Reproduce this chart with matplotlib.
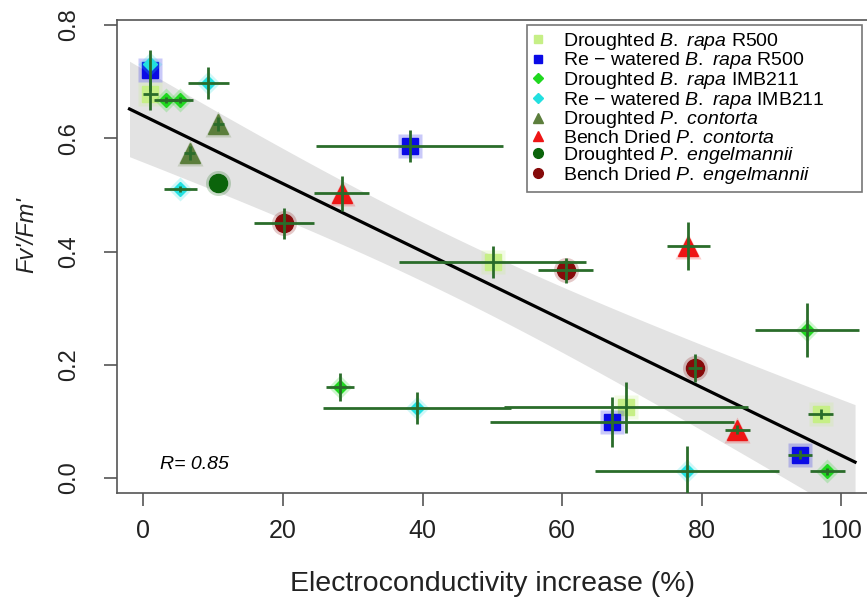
import numpy as np
import matplotlib
matplotlib.use('Agg')
import matplotlib.pyplot as plt
from matplotlib.lines import Line2D

plt.rcParams['font.family'] = ['Liberation Sans', 'DejaVu Sans']
plt.rcParams['mathtext.fontset'] = 'custom'
plt.rcParams['mathtext.rm'] = 'Liberation Sans'
plt.rcParams['mathtext.it'] = 'Liberation Sans:italic'

# Droughted B. rapa R500
dr_r500_x = [1.0, 50.1, 69.2, 97.1]
dr_r500_y = [0.678, 0.382, 0.125, 0.113]
dr_r500_xerr = [1.1, 13.4, 17.5, 1.8]
dr_r500_yerr = [0.028, 0.028, 0.045, 0.008]

# Re-watered B. rapa R500
rw_r500_x = [1.0, 38.2, 67.2, 94.1]
rw_r500_y = [0.720, 0.586, 0.099, 0.041]
rw_r500_xerr = [0.0, 13.4, 17.5, 1.7]
rw_r500_yerr = [0.036, 0.028, 0.044, 0.008]

# Droughted B. rapa IMB211
dr_imb_x = [3.2, 5.3, 28.2, 95.1, 98.0]
dr_imb_y = [0.668, 0.668, 0.161, 0.261, 0.012]
dr_imb_xerr = [1.7, 1.8, 2.0, 7.4, 2.5]
dr_imb_yerr = [0.005, 0.005, 0.025, 0.048, 0.006]

# Re-watered B. rapa IMB211
rw_imb_x = [1.0, 9.3, 5.3, 39.2, 77.9]
rw_imb_y = [0.732, 0.698, 0.511, 0.124, 0.012]
rw_imb_xerr = [0.0, 2.9, 2.4, 13.5, 13.2]
rw_imb_yerr = [0.0, 0.028, 0.005, 0.028, 0.045]

# Droughted P. contorta
dr_cont_x = [10.7, 6.6]
dr_cont_y = [0.625, 0.574]
dr_cont_xerr = [0.8, 0.8]
dr_cont_yerr = [0.012, 0.012]

# Bench dried P. contorta
bd_cont_x = [28.4, 78.1, 85.1]
bd_cont_y = [0.503, 0.410, 0.085]
bd_cont_xerr = [4.0, 3.1, 1.8]
bd_cont_yerr = [0.031, 0.042, 0.008]

# Droughted P. engelmannii
dr_eng_x = [10.7]
dr_eng_y = [0.521]
dr_eng_xerr = [0.0]
dr_eng_yerr = [0.0]

# Bench dried P. engelmannii
bd_eng_x = [20.1, 60.5, 79.1]
bd_eng_y = [0.450, 0.367, 0.194]
bd_eng_xerr = [4.3, 3.9, 1.0]
bd_eng_yerr = [0.027, 0.022, 0.025]

r_value = 0.85
t_crit = 2.06  # qt(0.975, n - 2)

labels = [r'Droughted $\mathit{B.}$ $\mathit{rapa}$ R500',
          r'Re $-$ watered $\mathit{B.}$ $\mathit{rapa}$ R500',
          r'Droughted $\mathit{B.}$ $\mathit{rapa}$ IMB211',
          r'Re $-$ watered $\mathit{B.}$ $\mathit{rapa}$ IMB211',
          r'Droughted $\mathit{P.}$ $\mathit{contorta}$',
          r'Bench Dried $\mathit{P.}$ $\mathit{contorta}$',
          r'Droughted $\mathit{P.}$ $\mathit{engelmannii}$',
          r'Bench Dried $\mathit{P.}$ $\mathit{engelmannii}$']

# (data, colour, marker, size, legend size)
groups = [
    ((dr_r500_x, dr_r500_y, dr_r500_xerr, dr_r500_yerr), '#c6ef86', 's', 12, 6),
    ((rw_r500_x, rw_r500_y, rw_r500_xerr, rw_r500_yerr), '#0a0ae6', 's', 12, 6),
    ((dr_imb_x, dr_imb_y, dr_imb_xerr, dr_imb_yerr), '#1fd81f', 'D', 7, 5),
    ((rw_imb_x, rw_imb_y, rw_imb_xerr, rw_imb_yerr), '#22e0e0', 'D', 7, 5),
    ((dr_cont_x, dr_cont_y, dr_cont_xerr, dr_cont_yerr), '#5c7e3c', '^', 14, 7),
    ((bd_cont_x, bd_cont_y, bd_cont_xerr, bd_cont_yerr), '#ee1515', '^', 14, 7),
    ((dr_eng_x, dr_eng_y, dr_eng_xerr, dr_eng_yerr), '#0b640b', 'o', 13, 7),
    ((bd_eng_x, bd_eng_y, bd_eng_xerr, bd_eng_yerr), '#860a0a', 'o', 13, 7),
]

fig = plt.figure(figsize=(8.67, 5.99), dpi=100)
ax = fig.add_axes([0.1349, 0.1770, 0.8674, 0.7896])

# linear fit with 95% confidence band
all_x = np.concatenate([np.array(g[0][0]) for g in groups])
all_y = np.concatenate([np.array(g[0][1]) for g in groups])
n = len(all_x)
slope, intercept = np.polyfit(all_x, all_y, 1)
resid = all_y - (intercept + slope * all_x)
s = np.sqrt(np.sum(resid ** 2) / (n - 2))
xx = np.linspace(-2, 102, 200)
yy = intercept + slope * xx
se = s * np.sqrt(1.0 / n + (xx - all_x.mean()) ** 2 / np.sum((all_x - all_x.mean()) ** 2))
ax.fill_between(xx, yy - t_crit * se, yy + t_crit * se, color='#e3e3e3', lw=0, zorder=1)
ax.plot(xx, yy, color='black', lw=2.3, zorder=2)

handles = []
for (x, y, xe, ye), col, mk, ms, lms in groups:
    ax.plot(x, y, ls='none', marker=mk, ms=ms + 5, color=col, mec='none', alpha=0.22, zorder=3)
    ax.plot(x, y, ls='none', marker=mk, ms=ms, color=col, mec=col, zorder=3)
    ax.errorbar(x, y, xerr=xe, yerr=ye, fmt='none', ecolor='#2a6c2a', elinewidth=2, capsize=0, zorder=4)
    handles.append(Line2D([], [], ls='none', marker=mk, ms=lms, color=col))

ax.text(2.4, 0.023, 'R= %.2f' % r_value, fontstyle='italic', fontsize=14, va='center', ha='left')

ax.set_xlim(-3.8, 104)
ax.set_ylim(-0.0265, 0.809)
ax.set_xticks([0, 20, 40, 60, 80, 100])
ax.set_yticks([0.0, 0.2, 0.4, 0.6, 0.8])
ax.set_yticklabels(['0.0', '0.2', '0.4', '0.6', '0.8'], rotation=90, va='center')
ax.tick_params(axis='both', direction='out', length=9.5, width=1.2, color='#555555', labelcolor='#222222')
ax.tick_params(axis='x', labelsize=18, pad=9)
ax.tick_params(axis='y', labelsize=17, pad=17)
for sp in ax.spines.values():
    sp.set_color('#555555')
    sp.set_linewidth(1.2)

ax.set_xlabel('Electroconductivity increase (%)', fontsize=20.5, color='#222222')
ax.xaxis.set_label_coords(0.5, -0.165)
ax.set_ylabel("Fv'/Fm'", fontsize=17, fontstyle='italic', color='#222222')
ax.yaxis.set_label_coords(-0.104, 0.545)

leg = ax.legend(handles, labels, loc='upper left', mode='expand',
                bbox_to_anchor=(527 / 867, (599 - 183) / 599, 335 / 867, 158 / 599),
                bbox_transform=fig.transFigure, borderaxespad=0, fontsize=14,
                frameon=True, fancybox=False, borderpad=0.3, handlelength=0.57,
                handletextpad=0.98, labelspacing=-0.07)
leg.get_frame().set_edgecolor('#555555')
leg.get_frame().set_linewidth(1.2)

fig.savefig('out.png', dpi=100)
